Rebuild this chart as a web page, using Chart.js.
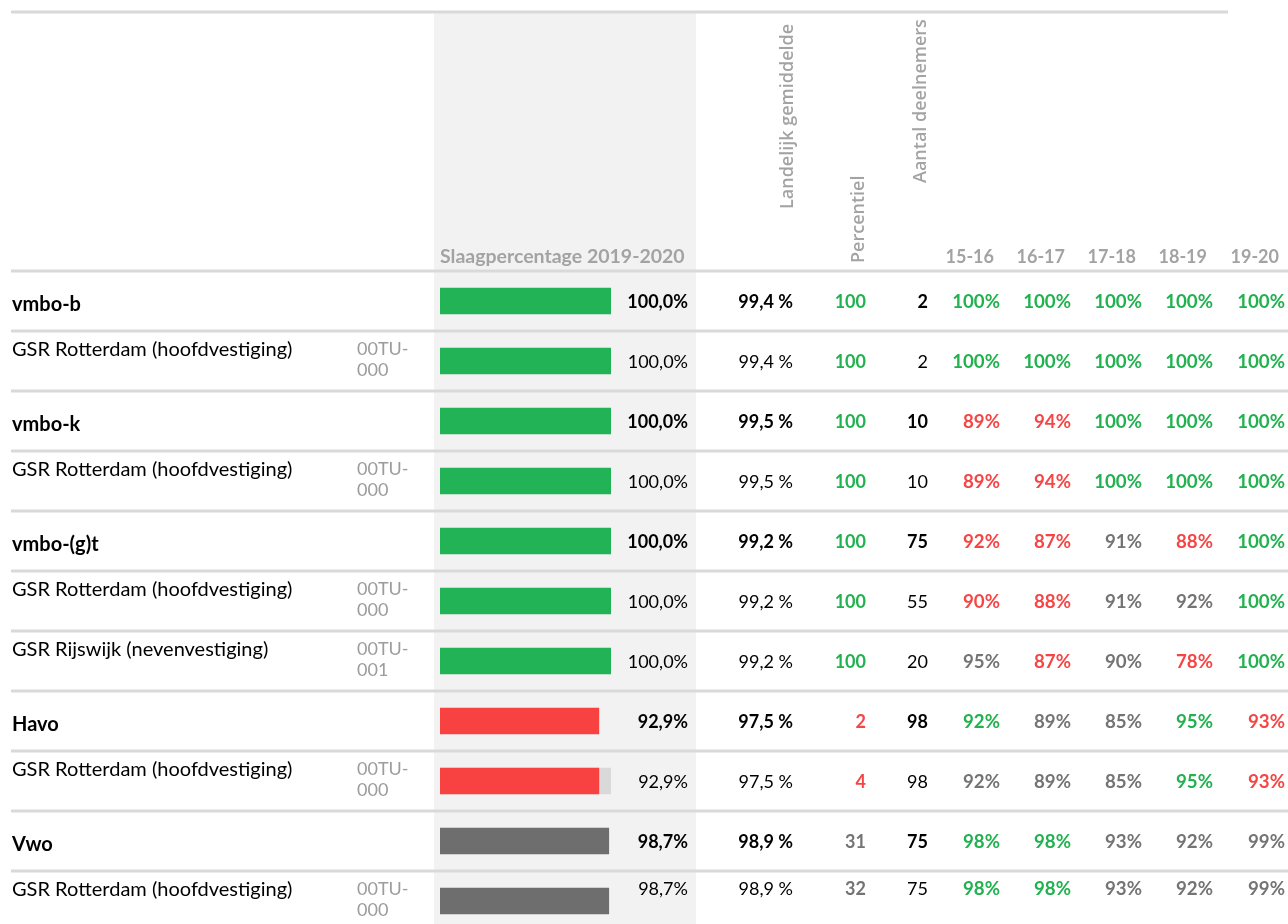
<!DOCTYPE html>
<html><head><meta charset="utf-8">
<script src="https://cdn.jsdelivr.net/npm/chart.js@4/dist/chart.umd.min.js"></script>
<style>
html,body{margin:0;padding:0;background:#fff;overflow:hidden;width:1288px;height:924px}
#wrap{position:relative;width:1288px;height:924px;overflow:hidden}
canvas{position:absolute;left:0;top:0}
#txt{position:absolute;left:0;top:0;width:1288px;height:924px;font-family:Lato,"Open Sans",sans-serif;font-size:18px;color:#000}
.t{position:absolute;white-space:nowrap;height:22px;line-height:22px}
.r{text-align:right;width:200px}
.b{font-weight:700}
.rot{position:absolute;white-space:nowrap;height:20px;line-height:20px;transform-origin:0 0;transform:rotate(-90deg);font-family:"Open Sans",sans-serif;font-weight:600;font-size:18px;color:#a3a3a3}
</style></head><body>
<div id="wrap"><canvas id="c" width="1288" height="940"></canvas><div id="txt"></div></div>
<script>
// ---- data ----
const rowNames = ['vmbo-b','GSR Rotterdam (hoofdvestiging)','vmbo-k','GSR Rotterdam (hoofdvestiging)','vmbo-(g)t','GSR Rotterdam (hoofdvestiging)','GSR Rijswijk (nevenvestiging)','Havo','GSR Rotterdam (hoofdvestiging)','Vwo','GSR Rotterdam (hoofdvestiging)'];
const rowCodes = ['','00TU-000','','00TU-000','','00TU-000','00TU-001','','00TU-000','','00TU-000'];
const rowLevel = ['groep','vestiging','groep','vestiging','groep','vestiging','vestiging','groep','vestiging','groep','vestiging'];
const slaagpercentage = [100,100,100,100,100,100,100,92.9,92.9,98.7,98.7];
const slaagStatus = ['goed','goed','goed','goed','goed','goed','goed','onder','onder','gemiddeld','gemiddeld'];
const restBalk = [null,null,null,null,null,null,null,null,100,null,null];
const landelijkGemiddelde = [99.4,99.4,99.5,99.5,99.2,99.2,99.2,97.5,97.5,98.9,98.9];
const percentiel = [100,100,100,100,100,100,100,2,4,31,32];
const percentielStatus = ['goed','goed','goed','goed','goed','goed','goed','onder','onder','gemiddeld','gemiddeld'];
const aantalDeelnemers = [2,2,10,10,75,55,20,98,98,75,75];
const jaren = ['15-16','16-17','17-18','18-19','19-20'];
const jaar1516 = [100,100,89,89,92,90,95,92,92,98,98];
const jaar1617 = [100,100,94,94,87,88,87,89,89,98,98];
const jaar1718 = [100,100,100,100,91,91,90,85,85,93,93];
const jaar1819 = [100,100,100,100,88,92,78,95,95,92,92];
const jaar1920 = [100,100,100,100,100,100,100,93,93,99,99];
const status1516 = ['goed','goed','onder','onder','onder','onder','gemiddeld','goed','gemiddeld','goed','goed'];
const status1617 = ['goed','goed','onder','onder','onder','onder','onder','gemiddeld','gemiddeld','goed','goed'];
const status1718 = ['goed','goed','goed','goed','gemiddeld','gemiddeld','gemiddeld','gemiddeld','gemiddeld','gemiddeld','gemiddeld'];
const status1819 = ['goed','goed','goed','goed','onder','gemiddeld','onder','goed','goed','gemiddeld','gemiddeld'];
const status1920 = ['goed','goed','goed','goed','goed','goed','goed','onder','onder','gemiddeld','gemiddeld'];
const historie = [jaar1516,jaar1617,jaar1718,jaar1819,jaar1920];
const historieStatus = [status1516,status1617,status1718,status1819,status1920];

// ---- styles ----
const barKleur = {goed:'#22b357', onder:'#f84242', gemiddeld:'#6e6e6e'};
const tekstKleur = {goed:'#21b14f', onder:'#f64545', gemiddeld:'#747474'};
const lijnKleur = '#d9d9d9';

const tabelPlugin = {
  id:'tabel',
  beforeDraw(chart){
    const ctx = chart.ctx, y = chart.scales.y;
    const band = y.getPixelForValue(1) - y.getPixelForValue(0);
    ctx.save();
    ctx.fillStyle = '#f2f2f2';
    ctx.fillRect(434, 13, 262, chart.height);
    ctx.strokeStyle = lijnKleur; ctx.lineWidth = 3;
    ctx.beginPath(); ctx.moveTo(11, 12); ctx.lineTo(1228, 12); ctx.stroke();
    for (let k = 0; k < rowNames.length; k++) {
      const top = y.getPixelForValue(k) - band/2;
      ctx.beginPath(); ctx.moveTo(11, top); ctx.lineTo(1288, top); ctx.stroke();
    }
    ctx.restore();
  }
};

const chart = new Chart(document.getElementById('c'), {
  type:'bar',
  data:{
    labels: rowNames,
    datasets:[
      {label:'Slaagpercentage 2019-2020', data:slaagpercentage, backgroundColor:slaagStatus.map(s=>barKleur[s]), barThickness:26, grouped:false, order:1},
      {label:'rest', data:restBalk, backgroundColor:'#d9d9d9', barThickness:26, grouped:false, order:2}
    ]
  },
  options:{
    indexAxis:'y', responsive:false, animation:false,
    layout:{padding:{left:440, right:677, top:271, bottom:9}},
    scales:{
      x:{display:false, min:0, max:100},
      y:{display:false, offset:true}
    },
    plugins:{legend:{display:false}, tooltip:{enabled:false}}
  },
  plugins:[tabelPlugin]
});

// ---- text ----
const box = document.getElementById('txt');
function tekst(s, x, cy, opts={}){
  const d = document.createElement('div');
  d.className = 't' + (opts.right ? ' r' : '') + (opts.bold ? ' b' : '');
  d.textContent = s;
  d.style.left = (opts.right ? x - 200 : x) + 'px';
  d.style.top = (cy - 11) + 'px';
  if (opts.color) d.style.color = opts.color;
  if (opts.size) d.style.fontSize = opts.size + 'px';
  box.appendChild(d);
  return d;
}
function rot(s, cx, bottom){
  const d = document.createElement('div');
  d.className = 'rot'; d.textContent = s;
  d.style.left = (cx - 10) + 'px'; d.style.top = bottom + 'px';
  box.appendChild(d);
}
const fmt1 = v => v.toFixed(1).replace('.', ',');

// header
const kopKleur = '#a3a3a3';
tekst('Slaagpercentage 2019-2020', 440, 256, {bold:true, color:kopKleur, size:19.5});
rot('Landelijk gemiddelde', 786, 209);
rot('Percentiel', 857, 263);
rot('Aantal deelnemers', 919, 183);
const jaarX = [1000,1071,1142,1213,1285];
jaren.forEach((j,i)=>tekst(j, jaarX[i]-6, 256, {right:true, bold:true, color:kopKleur}));

// rows
const ys = chart.scales.y;
const band = ys.getPixelForValue(1) - ys.getPixelForValue(0);
rowNames.forEach((name,k)=>{
  const cy = ys.getPixelForValue(k);
  const top = cy - band/2;
  const groep = rowLevel[k] === 'groep';
  if (groep) tekst(name, 12, cy + 2, {bold:true, size:20});
  else tekst(name, 12, top + 17, {size:20});
  if (rowCodes[k]) {
    const i = rowCodes[k].indexOf('-');
    tekst(rowCodes[k].slice(0, i+1), 357, top + 17, {color:'#9c9c9c'});
    tekst(rowCodes[k].slice(i+1), 357, top + 38, {color:'#9c9c9c'});
  }
  const vy = (k === rowNames.length - 1) ? top + 17 : cy;
  tekst(fmt1(slaagpercentage[k]) + '%', 688, vy, {right:true, bold:groep});
  tekst(fmt1(landelijkGemiddelde[k]) + ' %', 793, vy, {right:true, bold:groep});
  tekst(String(percentiel[k]), 866, vy, {right:true, bold:true, color:tekstKleur[percentielStatus[k]]});
  tekst(String(aantalDeelnemers[k]), 928, vy, {right:true, bold:groep});
  historie.forEach((arr,j)=>{
    tekst(arr[k] + '%', jaarX[j], vy, {right:true, bold:true, size:18.7, color:tekstKleur[historieStatus[j][k]]});
  });
});
</script>
</body></html>
